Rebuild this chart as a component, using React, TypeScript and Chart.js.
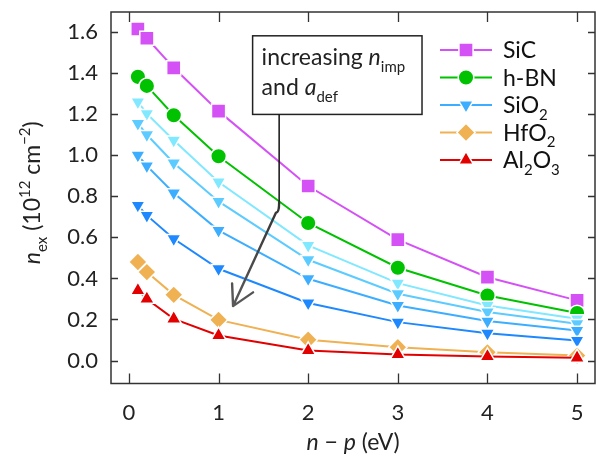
import React, { useEffect, useRef } from "react";
import { Chart, registerables } from "chart.js";
import { drawPoint } from "chart.js/helpers";

Chart.register(...registerables);

const FONT = "Lato, 'DejaVu Sans', sans-serif";

// x values: n - p (eV)
const xValues = [0.1, 0.2, 0.5, 1, 2, 3, 4, 5];

// n_ex (10^12 cm^-2)
const sicValues = [1.615, 1.57, 1.426, 1.215, 0.85, 0.589, 0.406, 0.293];
const hbnValues = [1.382, 1.338, 1.195, 0.995, 0.67, 0.452, 0.317, 0.231];
const sio2aValues = [1.26, 1.203, 1.073, 0.87, 0.561, 0.377, 0.268, 0.203];
const sio2bValues = [1.155, 1.1, 0.962, 0.775, 0.491, 0.325, 0.236, 0.179];
const sio2cValues = [1.0, 0.948, 0.816, 0.634, 0.398, 0.268, 0.192, 0.146];
const sio2dValues = [0.756, 0.707, 0.593, 0.447, 0.28, 0.187, 0.133, 0.098];
const hfo2Values = [0.48, 0.431, 0.32, 0.198, 0.101, 0.065, 0.04, 0.024];
const al2o3Values = [0.341, 0.3, 0.203, 0.122, 0.049, 0.029, 0.02, 0.013];

const xTickValues = [0, 1, 2, 3, 4, 5];
const yTickValues = [0, 0.2, 0.4, 0.6, 0.8, 1.0, 1.2, 1.4, 1.6];

const seriesDefs = [
  { label: "SiC", values: sicValues, color: "#D452F5", style: "rect", radius: 10, rotation: 0 },
  { label: "h-BN", values: hbnValues, color: "#00C200", style: "circle", radius: 7.8, rotation: 0 },
  { label: "SiO2 (a)", values: sio2aValues, color: "#80E8FF", style: "triangle", radius: 8.4, rotation: 180 },
  { label: "SiO2 (b)", values: sio2bValues, color: "#5CCBFF", style: "triangle", radius: 8.4, rotation: 180 },
  { label: "SiO2 (c)", values: sio2cValues, color: "#3DAEFF", style: "triangle", radius: 8.4, rotation: 180 },
  { label: "SiO2 (d)", values: sio2dValues, color: "#1E88FF", style: "triangle", radius: 8.4, rotation: 180 },
  { label: "HfO2", values: hfo2Values, color: "#EFB152", style: "rectRot", radius: 9.2, rotation: 0 },
  { label: "Al2O3", values: al2o3Values, color: "#E30000", style: "triangle", radius: 8.6, rotation: 0 },
];

type Part = { t: string; it?: boolean; sub?: boolean; sup?: boolean };

function fontFor(p: Part, size: number) {
  const s = p.sub || p.sup ? Math.round(size * 0.66) : size;
  return `${p.it ? "italic " : ""}${s}px ${FONT}`;
}
function richWidth(ctx: CanvasRenderingContext2D, parts: Part[], size: number) {
  let w = 0;
  for (const p of parts) {
    ctx.font = fontFor(p, size);
    w += ctx.measureText(p.t).width;
  }
  return w;
}
function drawRich(
  ctx: CanvasRenderingContext2D,
  parts: Part[],
  x: number,
  y: number,
  size: number,
  align: "left" | "center"
) {
  const w = richWidth(ctx, parts, size);
  let cx = align === "center" ? x - w / 2 : x;
  ctx.textAlign = "left";
  ctx.textBaseline = "alphabetic";
  for (const p of parts) {
    ctx.font = fontFor(p, size);
    const dy = p.sub ? size * 0.3 : p.sup ? -size * 0.45 : 0;
    ctx.fillText(p.t, cx, y + dy);
    cx += ctx.measureText(p.t).width;
  }
}

const legendItems: { parts: Part[]; def: number }[] = [
  { parts: [{ t: "SiC" }], def: 0 },
  { parts: [{ t: "h-BN" }], def: 1 },
  { parts: [{ t: "SiO" }, { t: "2", sub: true }], def: 4 },
  { parts: [{ t: "HfO" }, { t: "2", sub: true }], def: 6 },
  { parts: [{ t: "Al" }, { t: "2", sub: true }, { t: "O" }, { t: "3", sub: true }], def: 7 },
];

const decorPlugin = {
  id: "decor",
  afterDatasetsDraw(chart: any) {
    const ctx: CanvasRenderingContext2D = chart.ctx;
    const { left, right, top, bottom } = chart.chartArea;
    const xs = chart.scales.x;
    const ys = chart.scales.y;
    ctx.save();
    // frame
    ctx.strokeStyle = "#333";
    ctx.lineWidth = 1.5;
    ctx.strokeRect(left, top, right - left, bottom - top);
    // ticks
    ctx.lineWidth = 1.3;
    ctx.beginPath();
    for (const v of xTickValues) {
      const px = Math.round(xs.getPixelForValue(v)) + 0.5;
      ctx.moveTo(px, bottom);
      ctx.lineTo(px, bottom - 10);
      ctx.moveTo(px, top);
      ctx.lineTo(px, top + 10);
    }
    for (const v of yTickValues) {
      const py = Math.round(ys.getPixelForValue(v)) + 0.5;
      ctx.moveTo(left, py);
      ctx.lineTo(left + 7, py);
      ctx.moveTo(right, py);
      ctx.lineTo(right - 7, py);
    }
    ctx.stroke();

    // annotation box
    const bx0 = xs.getPixelForValue(1.38);
    const bx1 = xs.getPixelForValue(3.27);
    const by0 = ys.getPixelForValue(1.582);
    const by1 = ys.getPixelForValue(1.199);
    ctx.fillStyle = "#fff";
    ctx.fillRect(bx0, by0, bx1 - bx0, by1 - by0);
    ctx.strokeStyle = "#222";
    ctx.lineWidth = 1.5;
    ctx.strokeRect(bx0, by0, bx1 - bx0, by1 - by0);
    ctx.fillStyle = "#222";
    drawRich(
      ctx,
      [{ t: "increasing " }, { t: "n", it: true }, { t: "imp", sub: true }],
      bx0 + 9,
      by0 + 29,
      23,
      "left"
    );
    drawRich(
      ctx,
      [{ t: "and " }, { t: "a", it: true }, { t: "def", sub: true }],
      bx0 + 9,
      by0 + 59,
      23,
      "left"
    );

    // arrow
    const p = (x: number, y: number) => [xs.getPixelForValue(x), ys.getPixelForValue(y)];
    const [sx, sy] = p(1.676, 1.199);
    const [kx, ky] = p(1.676, 0.77);
    const [cx2, cy2] = p(1.64, 0.72);
    const [tx, ty] = p(1.162, 0.265);
    const [a1x, a1y] = p(1.151, 0.376);
    const [a2x, a2y] = p(1.385, 0.332);
    ctx.strokeStyle = "#111";
    ctx.lineWidth = 1.5;
    ctx.beginPath();
    ctx.moveTo(sx, sy);
    ctx.lineTo(kx, ky);
    ctx.stroke();
    const grad = ctx.createLinearGradient(kx, ky, tx, ty);
    grad.addColorStop(0, "#333");
    grad.addColorStop(1, "#5a5a5a");
    ctx.strokeStyle = grad;
    ctx.lineWidth = 2.4;
    ctx.lineCap = "round";
    ctx.lineJoin = "round";
    ctx.beginPath();
    ctx.moveTo(kx, ky);
    ctx.quadraticCurveTo(kx, cy2, cx2, cy2);
    ctx.lineTo(tx, ty);
    ctx.moveTo(a1x, a1y);
    ctx.lineTo(tx, ty);
    ctx.lineTo(a2x, a2y);
    ctx.stroke();

    // legend
    const lx0 = right - 155;
    const lx1 = right - 103;
    const mx = right - 129;
    const textX = right - 92;
    legendItems.forEach((it, i) => {
      const d = seriesDefs[it.def];
      const y = top + 38 + i * 27.5;
      ctx.strokeStyle = d.color;
      ctx.lineWidth = 2;
      ctx.lineCap = "butt";
      ctx.beginPath();
      ctx.moveTo(lx0, y);
      ctx.lineTo(lx1, y);
      ctx.stroke();
      ctx.fillStyle = d.color;
      ctx.strokeStyle = "#fff";
      ctx.lineWidth = 1.5;
      drawPoint(ctx, { pointStyle: d.style as any, rotation: d.rotation, radius: d.radius, borderWidth: 1.5 }, mx, y);
      ctx.fillStyle = "#111";
      drawRich(ctx, it.parts, textX, y + 8, 23, "left");
    });
    ctx.restore();
  },
  afterDraw(chart: any) {
    const ctx: CanvasRenderingContext2D = chart.ctx;
    const { left, right, top, bottom } = chart.chartArea;
    ctx.save();
    ctx.fillStyle = "#222";
    // x title
    drawRich(
      ctx,
      [{ t: "n", it: true }, { t: " \u2212 " }, { t: "p", it: true }, { t: " (eV)" }],
      (left + right) / 2,
      bottom + 66,
      23,
      "center"
    );
    // y title
    ctx.translate(40, (top + bottom) / 2 - 5);
    ctx.rotate(-Math.PI / 2);
    drawRich(
      ctx,
      [
        { t: "n", it: true },
        { t: "ex", sub: true },
        { t: " (10" },
        { t: "12", sup: true },
        { t: " cm" },
        { t: "\u22122", sup: true },
        { t: ")" },
      ],
      0,
      0,
      23,
      "center"
    );
    ctx.restore();
  },
};

export default function App() {
  const canvasRef = useRef<HTMLCanvasElement | null>(null);

  useEffect(() => {
    document.body.style.margin = "0";
    const canvas = canvasRef.current;
    if (!canvas) return;
    const datasets = seriesDefs.map((d, i) => ({
      label: d.label,
      data: xValues.map((x, j) => ({ x, y: d.values[j] })),
      borderColor: d.color,
      backgroundColor: d.color,
      borderWidth: 2,
      pointStyle: d.style,
      pointRotation: d.rotation,
      pointRadius: d.radius,
      pointBackgroundColor: d.color,
      pointBorderColor: "#ffffff",
      pointBorderWidth: 1.5,
      tension: 0,
      order: seriesDefs.length - i,
    }));
    const chart = new Chart(canvas, {
      type: "line",
      data: { datasets: datasets as any },
      options: {
        animation: false,
        responsive: false,
        devicePixelRatio: 1,
        layout: { autoPadding: false, padding: { top: 12, right: 1, left: 0, bottom: 0 } },
        plugins: { legend: { display: false }, tooltip: { enabled: false } },
        scales: {
          x: {
            type: "linear",
            min: -0.2,
            max: 5.2,
            grid: { display: false, drawTicks: false },
            border: { display: false },
            afterBuildTicks: (s: any) => {
              s.ticks = xTickValues.map((v) => ({ value: v }));
            },
            afterFit: (s: any) => {
              s.height = 83.5;
              s.paddingLeft = 0;
              s.paddingRight = 0;
            },
            ticks: {
              padding: 16,
              color: "#222",
              font: { family: FONT, size: 22 },
              callback: (v: any) => String(v),
              maxRotation: 0,
            },
          },
          y: {
            type: "linear",
            min: -0.112,
            max: 1.698,
            grid: { display: false, drawTicks: false },
            border: { display: false },
            afterBuildTicks: (s: any) => {
              s.ticks = yTickValues.map((v) => ({ value: v }));
            },
            afterFit: (s: any) => {
              s.width = 111;
              s.paddingTop = 0;
              s.paddingBottom = 0;
            },
            ticks: {
              padding: 13,
              color: "#222",
              font: { family: FONT, size: 22 },
              callback: (v: any) => Number(v).toFixed(1),
            },
          },
        },
      },
      plugins: [decorPlugin],
    });
    return () => chart.destroy();
  }, []);

  return (
    <div style={{ width: 596, height: 467 }}>
      <canvas ref={canvasRef} width={596} height={467} style={{ display: "block" }} />
    </div>
  );
}
